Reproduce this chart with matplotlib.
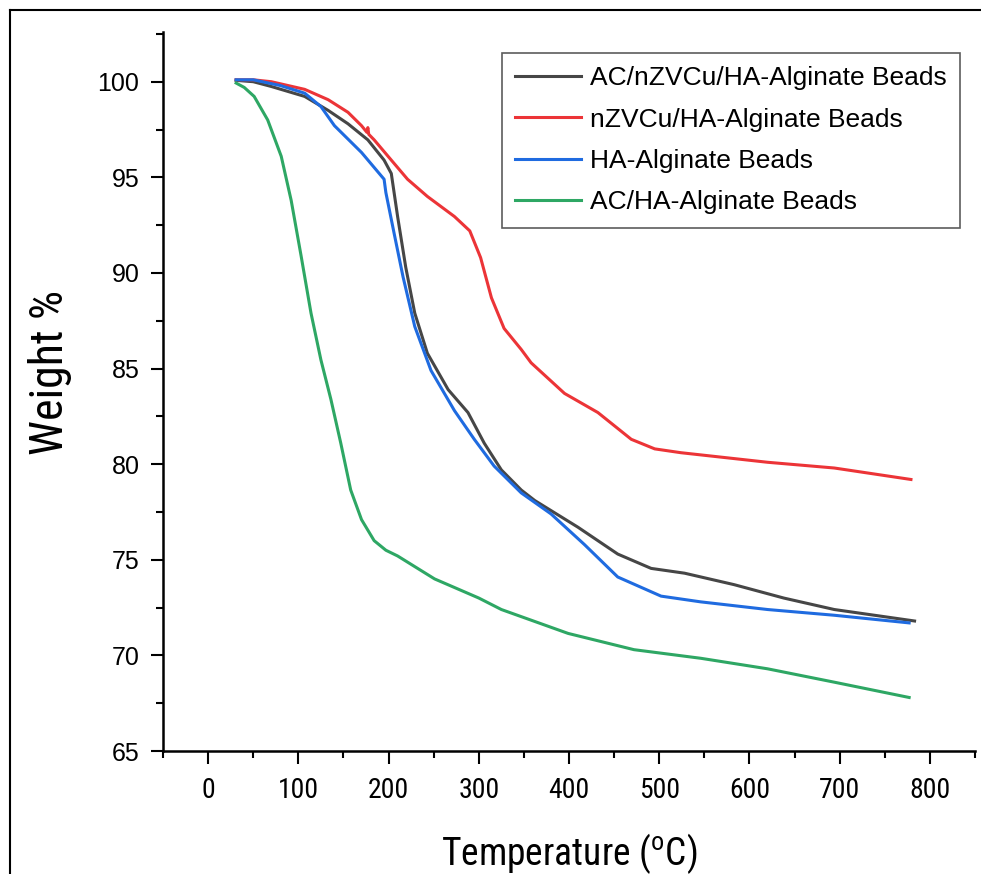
import matplotlib
matplotlib.use("Agg")
import matplotlib.pyplot as plt
from matplotlib import font_manager
from matplotlib.font_manager import FontProperties
from matplotlib.lines import Line2D
from matplotlib.ticker import MultipleLocator

# look for a condensed sans face for the axis titles / x tick labels (original uses Arial Narrow)
cond = None
prefs = ["Liberation Sans", "Roboto", "Open Sans", "Noto Sans", "DejaVu Sans", "Lato", "Inter"]
for pref in prefs:
    for f in font_manager.fontManager.ttflist:
        if not f.name.startswith(pref) or f.style != "normal":
            continue
        if any(k in f.name for k in ["Mono", "Serif", "CJK", "Display"]):
            continue
        if f.weight not in (400, "normal", "regular"):
            continue
        if f.stretch in ("condensed", "semi-condensed") or "Narrow" in f.name or "Condensed" in f.name:
            cond = f
            break
    if cond is not None:
        break

plt.rcParams["font.family"] = "Liberation Sans"
plt.rcParams["mathtext.fontset"] = "custom"
if cond is not None:
    narrow_fp = FontProperties(fname=cond.fname)
    plt.rcParams["mathtext.rm"] = f"{cond.name}:stretch={cond.stretch}"
    xtick_size, ylab_size, xlab_size = 20, 33, 27
else:
    narrow_fp = FontProperties(family="Liberation Sans")
    plt.rcParams["mathtext.rm"] = "Liberation Sans"
    xtick_size, ylab_size, xlab_size = 18, 28, 26

# TGA curves (temperature in C, weight %)
t_black = [31, 50, 70, 107, 133, 155, 177, 195, 203, 210, 219, 229, 243, 266, 288, 306, 325, 347,
           362, 410, 454, 491, 528, 583, 638, 694, 783]
w_black = [100.07, 100.0, 99.75, 99.23, 98.5, 97.8, 96.96, 95.9, 95.2, 92.95, 90.3, 87.9, 85.8, 83.9,
           82.7, 81.1, 79.7, 78.65, 78.1, 76.7, 75.3, 74.55, 74.3, 73.7, 73.0, 72.4, 71.8]

t_red = [31, 50, 70, 107, 133, 155, 170, 176, 177, 178, 184, 203, 221, 243, 273, 290, 302, 314, 328,
         347, 358, 395, 432, 469, 495, 524, 620, 694, 779]
w_red = [100.1, 100.1, 100.0, 99.6, 99.06, 98.4, 97.7, 97.35, 97.6, 97.25, 96.96, 95.9, 94.9, 94.0,
         92.95, 92.2, 90.8, 88.7, 87.1, 86.0, 85.3, 83.7, 82.7, 81.3, 80.8, 80.6, 80.1, 79.8, 79.2]

t_blue = [31, 50, 80, 107, 125, 140, 170, 195, 197, 206, 216, 229, 247, 273, 295, 317, 347, 380,
          417, 454, 502, 546, 620, 694, 777]
w_blue = [100.1, 100.1, 99.8, 99.4, 98.7, 97.7, 96.3, 94.9, 94.2, 92.1, 89.8, 87.2, 84.9, 82.8, 81.3,
          79.9, 78.5, 77.4, 75.8, 74.1, 73.1, 72.8, 72.4, 72.1, 71.7]

t_green = [31, 40, 51, 66, 81, 92, 103, 114, 125, 136, 147, 158, 170, 184, 197, 210, 251, 300, 325,
           399, 472, 546, 620, 694, 777]
w_green = [99.93, 99.7, 99.23, 98.0, 96.1, 93.8, 90.9, 87.9, 85.45, 83.4, 81.1, 78.65, 77.1, 76.0,
           75.5, 75.2, 74.0, 73.0, 72.4, 71.15, 70.3, 69.85, 69.3, 68.6, 67.8]

labels = ["AC/nZVCu/HA-Alginate Beads", "nZVCu/HA-Alginate Beads", "HA-Alginate Beads",
          "AC/HA-Alginate Beads"]
colors = ["#464646", "#ec3437", "#1f6be0", "#2ea764"]

fig = plt.figure(figsize=(9.81, 8.74), dpi=100)
ax = fig.add_axes([0.1662, 0.1407, 0.8277, 0.8227])

series = [(t_black, w_black), (t_red, w_red), (t_blue, w_blue), (t_green, w_green)]
for (t, w), lab, c in zip(series, labels, colors):
    ax.plot(t, w, color=c, linewidth=2.2, label=lab)

ax.set_xlim(-50, 850)
ax.set_ylim(65, 102.6)
ax.xaxis.set_major_locator(MultipleLocator(100))
ax.xaxis.set_minor_locator(MultipleLocator(50))
ax.yaxis.set_major_locator(MultipleLocator(5))
ax.yaxis.set_minor_locator(MultipleLocator(2.5))

for s in ["top", "right"]:
    ax.spines[s].set_visible(False)
for s in ["left", "bottom"]:
    ax.spines[s].set_linewidth(1.8)

ax.tick_params(which="major", direction="out", length=9, width=1.5)
ax.tick_params(which="minor", direction="out", length=5, width=1.5)
ax.tick_params(axis="y", labelsize=18, pad=8)
ax.tick_params(axis="x", pad=10)
for lbl in ax.get_xticklabels():
    lbl.set_fontproperties(narrow_fp)
    lbl.set_fontsize(xtick_size)

ax.set_ylabel("Weight %", fontproperties=narrow_fp, fontsize=ylab_size)
ax.yaxis.set_label_coords(-0.112, 0.527)
ax.set_xlabel(r"Temperature ($^{\mathrm{o}}$C)", fontproperties=narrow_fp, fontsize=xlab_size,
              labelpad=19)

leg = ax.legend(loc="upper right", bbox_to_anchor=(0.9815, 0.9708), fontsize=19, frameon=True,
                fancybox=False, edgecolor="#333333", handlelength=2.5, handletextpad=0.35,
                labelspacing=0.66, borderpad=0.5, borderaxespad=0)
leg.get_frame().set_linewidth(1.2)

# frame lines around the figure (top and left edges)
fig.add_artist(Line2D([10 / 981, 1], [1 - 10 / 874, 1 - 10 / 874], color="black", linewidth=1.5,
                      transform=fig.transFigure))
fig.add_artist(Line2D([10 / 981, 10 / 981], [0, 1 - 10 / 874], color="black", linewidth=1.5,
                      transform=fig.transFigure))

fig.savefig("out.png", dpi=100)
